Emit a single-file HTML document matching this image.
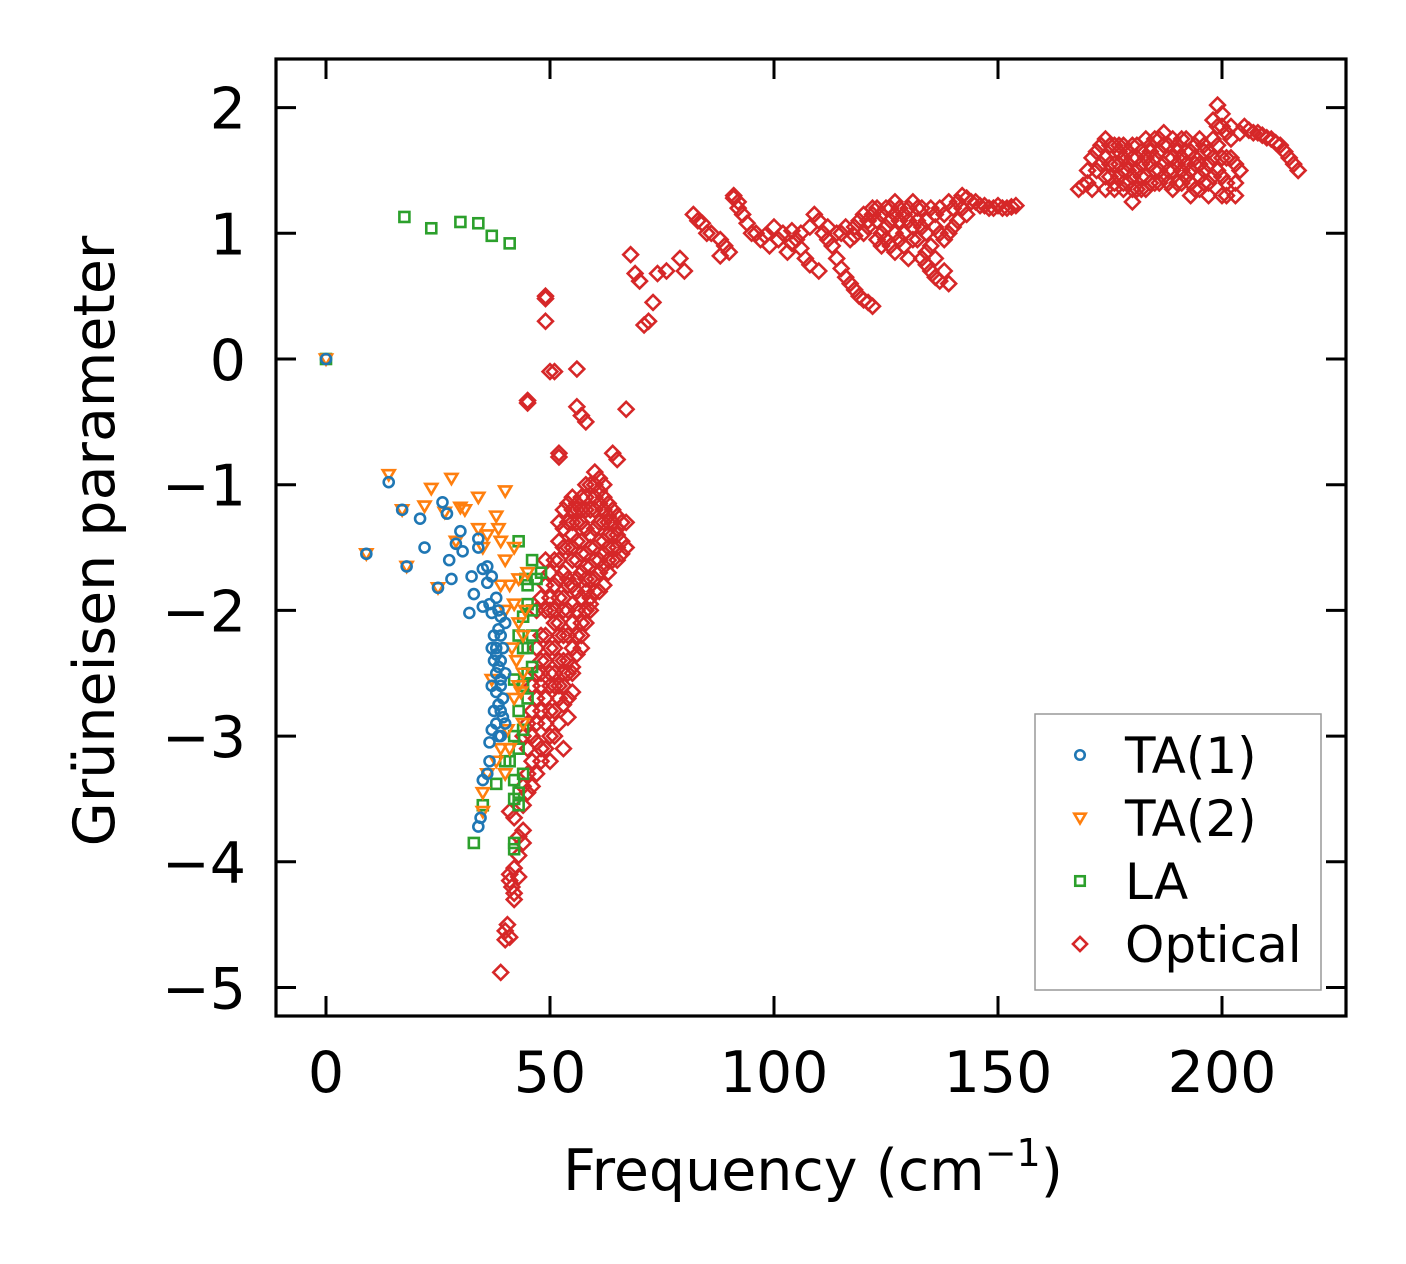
<!DOCTYPE html>
<html><head><meta charset="utf-8">
<style>
html,body{margin:0;padding:0;background:#fff;}
svg{display:block;font-family:"DejaVu Sans","Liberation Sans",sans-serif;}
</style></head>
<body>
<svg id="chart" width="1406" height="1264" viewBox="0 0 1406 1264" xmlns="http://www.w3.org/2000/svg">
<rect x="0" y="0" width="1406" height="1264" fill="#fff"/>
<g id="marks"></g>
<g id="axes"></g>
<g id="legend"></g>
</svg>
<script>
const xTicks = [0, 50, 100, 150, 200];
const yTicks = [2, 1, 0, -1, -2, -3, -4, -5];
const yTickLabels = ["2", "1", "0", "\u22121", "\u22122", "\u22123", "\u22124", "\u22125"];
const legendLabels = ["TA(1)", "TA(2)", "LA", "Optical"];

const ta1X = [0,9,14,17,18,21,22,25,26,27,27.5,28,29,30,30.5,32,32.5,33,34,34,35,35,36,36,36.5,37,37,37.5,38,38,38,38.5,38.5,39,39,39,39,39.5,39.5,40,40,37.5,37,36.5,36,35,34.5,34,37,38,38.5,39,40,36.5,38,38.5,39,39.5,38,37.5,38.5,39,37];
const ta1Y = [0,-1.55,-0.98,-1.2,-1.65,-1.27,-1.5,-1.82,-1.14,-1.23,-1.6,-1.75,-1.47,-1.37,-1.53,-2.02,-1.73,-1.87,-1.43,-1.5,-1.67,-1.97,-1.65,-1.78,-1.95,-1.73,-2.02,-2.2,-1.9,-2.3,-2.5,-2.15,-2.0,-2.4,-2.6,-2.8,-3.0,-2.7,-2.3,-2.5,-2.1,-2.8,-2.95,-3.2,-3.3,-3.35,-3.65,-3.72,-2.6,-2.9,-2.75,-2.2,-2.9,-3.05,-2.35,-2.45,-2.55,-2.85,-2.65,-2.4,-3.0,-2.05,-2.3];

const ta2X = [0,9,14,17,18,22,23.5,25,26.5,28,29,30,31,34,34,35,36,38,38.5,39,40,40,41,42,42,43,43,42.5,43,42,43.5,41,40.5,40,39,38,37,36,35,35,44,44,44,41.5,40,39,45,44.5];
const ta2Y = [0,-1.55,-0.92,-1.2,-1.65,-1.17,-1.03,-1.82,-1.22,-0.95,-1.45,-1.18,-1.2,-1.1,-1.35,-1.5,-1.4,-1.25,-1.35,-1.45,-1.05,-1.6,-1.8,-1.5,-1.95,-1.75,-2.1,-2.4,-2.6,-2.7,-2.65,-3.1,-2.95,-3.3,-3.1,-3.2,-2.55,-3.3,-3.45,-3.6,-2.2,-2.5,-2.9,-2.3,-2.0,-1.8,-1.7,-2.0];

const laX = [0,17.5,23.5,30,34,37,41,43,46,47,48,45,44,45,46,46,45,46,44,43,44,43,42,41,42,43,43,42,42,42,38,35,33,40,44,45,44,45,43,42,44.5];
const laY = [0,1.13,1.04,1.09,1.08,0.98,0.92,-1.45,-1.6,-1.75,-1.7,-1.8,-2.05,-2.3,-2.0,-2.2,-2.5,-2.45,-2.6,-2.8,-2.95,-3.1,-3.0,-3.2,-3.35,-3.45,-3.55,-3.5,-3.85,-3.9,-3.38,-3.55,-3.85,-3.2,-3.3,-2.7,-2.3,-1.95,-2.2,-2.55,-1.75];

const opticalMainX = [39,40,40,40.5,41,41,41.5,42,42,43,43,44,42,41,44,45,46,45,44,47,48,49,50,51,52,53,52,54,53,55,56,57,58,55,54,53,50,48,47,46,49,50,51,52,53,54,55,56,57,58,59,60,61,62,63,64,65,66,66,65,64,63,62,61,60,59,58,57,56,55,54,53,52,51,50,49,48,47,56,57,58,59,60,61,62,63,60,55,54,53,52,51,52,53,55,57,59,61,63,65,64,62,50,49,48,
49,49,49,50,51,45,45,52,52,56,56,57,58,64,65,67,68,69,70,71,72,73,74,76,79,80,82,84,86,88,88,90,91,92,93,94,95,97,99,100,102,103,105,106,107,108,109,110,110,112,113,114,115,116,117,118,119,120,121,122,115,117,118,120,121,122,123,124,125,126,127,128,129,130,131,132,133,134,135,136,137,139,128,130,132,134,136,138,140,142,144,146,148,150,152,154,126,125,127,133,135,137,139,141,143,
168,170,172,173,174,175,176,177,178,179,180,180,181,182,183,184,185,186,187,188,189,190,191,192,193,194,195,196,197,198,199,200,200,201,202,203,204,205,207,209,211,213,214,215,216,217,176,178,182,184,186,188,190,192,194,196,198,199,201,203,174,170,185,187,189,191,193,195,197,181,179,177];
const opticalMainY = [-4.88,-4.62,-4.55,-4.5,-4.6,-4.1,-4.2,-4.25,-4.05,-4.12,-3.95,-3.75,-3.65,-3.6,-3.55,-3.45,-3.2,-3.1,-3.0,-3.05,-2.8,-2.7,-3.2,-3.0,-2.9,-2.75,-2.6,-2.5,-2.4,-2.3,-2.2,-2.1,-2.0,-2.65,-2.85,-3.1,-2.5,-2.5,-2.3,-2.6,-2.2,-2.0,-1.8,-1.6,-1.5,-1.3,-1.2,-1.15,-1.1,-1.2,-1.0,-0.9,-1.05,-1.2,-1.3,-1.4,-1.5,-1.55,-1.3,-1.25,-1.6,-1.7,-1.8,-1.6,-1.5,-1.4,-1.55,-1.7,-1.85,-1.95,-1.75,-1.9,-2.1,-2.3,-1.7,-1.6,-1.9,-2.0,-1.45,-1.3,-1.75,-1.9,-1.75,-1.3,-1.45,-1.15,-1.2,-1.6,-2.0,-2.2,-2.4,-2.6,-1.3,-1.2,-1.4,-1.55,-1.65,-1.85,-1.5,-1.4,-1.2,-1.0,-2.8,-2.9,-3.1,
0.5,0.48,0.3,-0.1,-0.1,-0.33,-0.35,-0.75,-0.78,-0.08,-0.38,-0.45,-0.5,-0.75,-0.8,-0.4,0.83,0.68,0.62,0.27,0.3,0.45,0.68,0.7,0.8,0.7,1.15,1.08,1.0,0.95,0.82,0.85,1.3,1.25,1.15,1.08,1.0,0.95,0.9,1.05,1.0,0.85,0.95,0.88,0.8,0.75,1.15,1.1,0.7,0.95,0.9,0.8,0.72,0.65,0.6,0.55,0.5,0.47,0.45,0.42,1.0,0.95,1.05,1.0,1.05,1.15,1.2,1.0,0.95,0.9,0.85,1.1,1.15,1.2,1.05,0.95,0.8,0.75,0.7,0.65,0.62,0.6,0.95,0.8,1.2,1.1,1.05,1.15,1.2,1.3,1.25,1.22,1.2,1.22,1.2,1.22,1.1,1.2,1.25,1.05,0.9,1.0,1.0,1.1,1.15,
1.35,1.4,1.5,1.7,1.6,1.45,1.55,1.65,1.35,1.5,1.25,1.7,1.6,1.45,1.75,1.55,1.4,1.65,1.8,1.5,1.35,1.7,1.6,1.45,1.3,1.55,1.75,1.65,1.4,1.9,2.02,1.85,1.3,1.6,1.75,1.3,1.5,1.85,1.8,1.78,1.75,1.7,1.65,1.6,1.55,1.5,1.4,1.6,1.65,1.4,1.5,1.7,1.4,1.75,1.35,1.5,1.6,1.7,1.4,1.55,1.35,1.5,1.6,1.45,1.6,1.5,1.65,1.45,1.55,1.35,1.65,1.45];

const opticalExtraX = [45,46,46,47,47,47,48,48,48,49,49,49,50,50,50,51,51,51,51,52,52,52,52,53,53,53,53,54,54,54,54,54,55,55,55,55,55,56,56,56,56,57,57,57,57,58,58,58,58,59,59,59,59,60,60,60,60,61,61,61,62,62,62,63,63,63,64,64,65,65,66,67,67,61,60,62,58,56,55,52,51,50,49,48,47,46,53,54,55,56,57,58,59,45,44,43,44,42,41,
172,173,174,175,175,176,177,177,178,178,179,179,180,180,181,181,182,182,183,183,184,184,185,185,186,186,187,187,188,188,189,189,190,190,191,191,192,192,193,193,194,194,195,195,196,196,197,197,198,198,199,199,200,200,200,201,201,202,202,203,204,206,208,210,212,171,169,174,176,178,180,183,171,
96,98,101,104,104,106,108,111,112,114,116,119,120,122,123,124,124,126,127,128,129,129,130,131,131,132,133,134,134,135,136,136,137,138,138,139,140,141,142,143,145,147,149,151,153,127,125,123,121,118,92,91,89,85,83];
const opticalExtraY = [-2.9,-2.8,-3.0,-2.7,-2.5,-2.9,-2.2,-2.6,-2.4,-2.4,-2.0,-1.8,-2.3,-2.6,-1.9,-2.0,-2.1,-1.6,-2.5,-1.9,-2.2,-1.75,-1.45,-1.7,-2.0,-1.35,-2.5,-1.5,-1.8,-2.2,-2.4,-1.15,-1.5,-1.8,-2.1,-2.5,-1.3,-1.3,-1.6,-2.0,-1.75,-1.2,-1.45,-1.9,-2.3,-1.1,-1.35,-1.65,-1.85,-1.2,-1.5,-1.75,-2.0,-1.1,-1.35,-1.6,-1.85,-1.15,-1.45,-1.7,-1.3,-1.55,-1.65,-1.25,-1.4,-1.6,-1.3,-1.5,-1.35,-1.6,-1.45,-1.5,-1.3,-0.95,-1.0,-1.1,-1.0,-1.2,-1.1,-2.7,-2.8,-3.0,-3.1,-3.2,-3.3,-3.4,-2.6,-2.7,-2.45,-2.35,-2.2,-2.1,-1.95,-3.3,-3.4,-3.8,-3.85,-4.3,-4.15,
1.65,1.55,1.45,1.7,1.55,1.35,1.7,1.55,1.5,1.7,1.4,1.55,1.45,1.6,1.7,1.5,1.55,1.35,1.6,1.45,1.7,1.65,1.5,1.75,1.4,1.75,1.55,1.7,1.6,1.4,1.75,1.5,1.55,1.65,1.4,1.75,1.55,1.65,1.5,1.4,1.7,1.6,1.55,1.35,1.7,1.4,1.65,1.3,1.45,1.75,1.85,1.5,1.95,1.6,1.45,1.8,1.3,1.85,1.6,1.4,1.8,1.82,1.8,1.76,1.72,1.35,1.38,1.75,1.7,1.4,1.35,1.35,1.6,
1.0,0.98,0.95,0.92,1.02,1.0,1.05,1.0,1.05,1.0,1.05,1.1,1.15,1.2,1.1,1.15,0.9,1.2,1.0,1.2,1.0,0.9,1.1,1.25,0.95,1.1,1.2,1.0,0.85,1.2,0.8,1.15,1.2,0.7,0.95,1.25,1.05,1.25,1.2,1.28,1.25,1.22,1.2,1.2,1.21,1.15,1.05,0.95,1.1,0.98,1.2,1.28,0.9,1.0,1.1];

const opticalX = opticalMainX.concat(opticalExtraX);
const opticalY = opticalMainY.concat(opticalExtraY);

const NS = "http://www.w3.org/2000/svg";
const L = 276, R = 1346, T = 59, B = 1016;
const X0 = 326, XS = 4.48;
const Y0 = 359, YS = 125.7;
function xScale(v){ return X0 + v * XS; }
function yScale(v){ return Y0 - v * YS; }
function mk(tag, attrs, parent){
  const e = document.createElementNS(NS, tag);
  for (const k in attrs) e.setAttribute(k, attrs[k]);
  parent.appendChild(e);
  return e;
}
const COLORS = ["#1f77b4", "#ff7f0e", "#2ca02c", "#d62728"];
function marker(kind, cx, cy, color, parent, sc){
  sc = sc || 1;
  let e;
  if (kind === 0) {
    e = mk("circle", {cx: cx, cy: cy, r: 5*sc, fill: "none", stroke: color, "stroke-width": 2.6}, parent);
  } else if (kind === 1) {
    const s = 6*sc;
    e = mk("polygon", {points: (cx-s)+","+(cy-s*0.75)+" "+(cx+s)+","+(cy-s*0.75)+" "+cx+","+(cy+s*0.95), fill: "none", stroke: color, "stroke-width": 2.6}, parent);
  } else if (kind === 2) {
    const s = 5*sc;
    e = mk("rect", {x: cx-s, y: cy-s, width: 2*s, height: 2*s, fill: "none", stroke: color, "stroke-width": 2.6}, parent);
  } else {
    const s = 7.4*sc;
    e = mk("polygon", {points: cx+","+(cy-s)+" "+(cx+s)+","+cy+" "+cx+","+(cy+s)+" "+(cx-s)+","+cy, fill: "none", stroke: color, "stroke-width": 2.6}, parent);
  }
  return e;
}

const marks = document.getElementById("marks");
const series = [[ta1X, ta1Y], [ta2X, ta2Y], [laX, laY], [opticalX, opticalY]];
const seriesNames = ["ta1-series", "ta2-series", "la-series", "optical-series"];
const pointNames = ["ta1-point", "ta2-point", "la-point", "optical-point"];
for (let s = 3; s >= 0; s--) {
  const g = mk("g", {}, marks);
  
  
  const xs = series[s][0], ys = series[s][1];
  const n = Math.min(xs.length, ys.length);
  for (let i = 0; i < n; i++) {
    const m = marker(s, xScale(xs[i]), yScale(ys[i]), COLORS[s], g);
    
    
  }
}

const axes = document.getElementById("axes");
const frame = mk("rect", {x: L, y: T, width: R-L, height: B-T, fill: "none", stroke: "#000", "stroke-width": 3.2}, axes);


xTicks.forEach(function(v){
  const x = xScale(v);
  const t1 = mk("line", {x1: x, x2: x, y1: B, y2: B-20, stroke: "#000", "stroke-width": 3}, axes);
  
  
  const t2 = mk("line", {x1: x, x2: x, y1: T, y2: T+20, stroke: "#000", "stroke-width": 3}, axes);
  
  
  const lb = mk("text", {x: x, y: 1092, "text-anchor": "middle", "font-size": 57, fill: "#000"}, axes);
  lb.textContent = String(v);
  
  
});
yTicks.forEach(function(v, i){
  const y = yScale(v);
  const t1 = mk("line", {x1: L, x2: L+20, y1: y, y2: y, stroke: "#000", "stroke-width": 3}, axes);
  
  
  const t2 = mk("line", {x1: R, x2: R-20, y1: y, y2: y, stroke: "#000", "stroke-width": 3}, axes);
  
  
  const lb = mk("text", {x: 246, y: y + 21, "text-anchor": "end", "font-size": 57, fill: "#000"}, axes);
  lb.textContent = yTickLabels[i];
  
  
});
const xt = mk("text", {x: 813, y: 1190, "text-anchor": "middle", "font-size": 57, fill: "#000"}, axes);


xt.innerHTML = 'Frequency (cm<tspan font-size="38" dy="-24">\u22121</tspan><tspan dy="24">)</tspan>';
const yt = mk("text", {x: 0, y: 0, "text-anchor": "middle", "font-size": 57, fill: "#000", transform: "translate(114,541) rotate(-90)"}, axes);
yt.textContent = "Gr\u00fcneisen parameter";



const legend = document.getElementById("legend");
const box = mk("rect", {x: 1035, y: 714, width: 286, height: 276, fill: "#fff", stroke: "#999", "stroke-width": 1.5}, legend);


const ly = [755, 818, 881, 944];
legendLabels.forEach(function(lbl, i){
  const g = mk("g", {}, legend);
  
  
  marker(i, 1080, ly[i], COLORS[i], g, 0.95);
  const t = mk("text", {x: 1125, y: ly[i] + 18, "font-size": 50, fill: "#000"}, g);
  t.textContent = lbl;
  
  
});
</script>
</body></html>
